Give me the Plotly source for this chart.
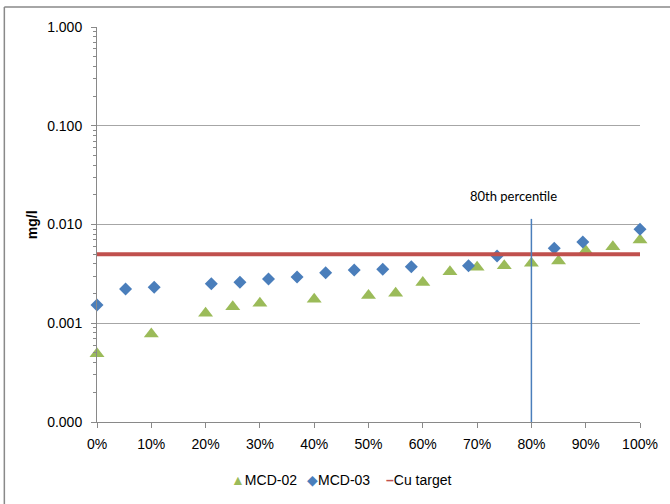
import plotly.graph_objects as go

# ---- data ----
mcd02_pct = [0.00, 0.10, 0.20, 0.25, 0.30, 0.40, 0.50, 0.55, 0.60, 0.65, 0.70, 0.75, 0.80, 0.85, 0.90, 0.95, 1.00]
mcd02_val = [0.00049, 0.00078, 0.00126, 0.00147, 0.00159, 0.00175, 0.00191, 0.00201, 0.00258, 0.00333,
             0.00369, 0.00383, 0.00405, 0.00427, 0.00543, 0.00596, 0.00697]

mcd03_pct = [0.0000, 0.0526, 0.1053, 0.2105, 0.2632, 0.3158, 0.3684, 0.4211, 0.4737, 0.5263,
             0.5789, 0.6842, 0.7368, 0.8421, 0.8947, 1.0000]
mcd03_val = [0.00153, 0.00222, 0.00231, 0.00251, 0.00260, 0.00281, 0.00294, 0.00325, 0.00346, 0.00352,
             0.00374, 0.00383, 0.00480, 0.00574, 0.00665, 0.00894]

cu_target_pct = [0.0, 1.0]
cu_target_val = [0.005, 0.005]

p80_pct = [0.8, 0.8]
p80_val = [0.0001, 0.0114]

y_tickvals = [0.0001, 0.001, 0.01, 0.1, 1.0]
y_ticktext = ["0.000", "0.001", "0.010", "0.100", "1.000"]
y_minor = [m * d for d in [0.0001, 0.001, 0.01, 0.1] for m in range(2, 10)]

series_names = ["MCD-02", "MCD-03", "Cu target"]

FONT = "Arial, Liberation Sans, sans-serif"
GRID = "#a6a6a6"
AXIS = "#898989"
GREEN, BLUE, RED = "#9bbb59", "#4a7ebb", "#c0504d"

fig = go.Figure()
fig.add_trace(go.Scatter(x=mcd02_pct, y=mcd02_val, mode="markers", name=series_names[0],
                         marker=dict(symbol="triangle-up", size=13, color=GREEN),
                         cliponaxis=False, showlegend=False))
fig.add_trace(go.Scatter(x=mcd03_pct, y=mcd03_val, mode="markers", name=series_names[1],
                         marker=dict(symbol="diamond", size=10, color=BLUE),
                         cliponaxis=False, showlegend=False))
fig.add_trace(go.Scatter(x=cu_target_pct, y=cu_target_val, mode="lines", name=series_names[2],
                         line=dict(color=RED, width=4), cliponaxis=False, showlegend=False))
fig.add_trace(go.Scatter(x=p80_pct, y=p80_val, mode="lines", showlegend=False,
                         line=dict(color=BLUE, width=1.5), hoverinfo="skip"))

L, R, T, B = 97, 28, 27, 82
W, H = 670, 504
pw, ph = W - L - R, H - T - B

def px(xp):
    return (xp - L) / pw

def py(yp):
    return (H - B - yp) / ph

legend_y = 480
legend_items = [
    (229, f'<span style="color:{GREEN}">▲</span>{series_names[0]}'),
    (306, f'<span style="color:{BLUE}">◆</span>{series_names[1]}'),
    (385, f'<span style="color:{RED}"><b>–</b></span>{series_names[2]}'),
]

annotations = [
    dict(text="<b>mg/l</b>", xref="paper", yref="paper",
         x=px(32), y=py(225), textangle=-90,
         showarrow=False, font=dict(family=FONT, size=14),
         xanchor="center", yanchor="middle"),
    dict(text="80th percentile", xref="paper", yref="paper",
         x=px(515), y=py(196),
         showarrow=False, font=dict(family="Lato, Open Sans, sans-serif", size=13),
         xanchor="center", yanchor="middle"),
]
for xl, txt in legend_items:
    annotations.append(dict(text=txt, xref="paper", yref="paper", x=px(xl), y=py(legend_y),
                            showarrow=False, xanchor="left", yanchor="middle",
                            font=dict(family=FONT, size=14, color="#000000")))

fig.update_layout(
    width=W, height=H,
    margin=dict(l=L, r=R, t=T, b=B, pad=0),
    paper_bgcolor="white", plot_bgcolor="white",
    font=dict(family=FONT, size=14, color="#000000"),
    showlegend=False,
    xaxis=dict(range=[0, 1], tickmode="array",
               tickvals=[i / 10 for i in range(11)], tickformat=".0%",
               showgrid=False, zeroline=False,
               showline=True, linecolor=AXIS, linewidth=1,
               ticks="outside", ticklen=5, tickcolor=AXIS,
               tickfont=dict(family=FONT, size=14), ticklabelstandoff=4),
    yaxis=dict(type="log", range=[-4, 0], tickmode="array",
               tickvals=y_tickvals, ticktext=y_ticktext,
               showgrid=True, gridcolor=GRID, gridwidth=1, zeroline=False,
               showline=True, linecolor=AXIS, linewidth=1,
               ticks="outside", ticklen=5, tickcolor=AXIS,
               tickfont=dict(family=FONT, size=14), ticklabelstandoff=6,
               minor=dict(tickmode="array", tickvals=y_minor, ticks="outside",
                          ticklen=3, tickcolor=AXIS, showgrid=False)),
    annotations=annotations,
    shapes=[
        dict(type="line", xref="paper", yref="paper",
             x0=px(4), x1=px(W + 5), y0=py(7), y1=py(7),
             line=dict(color=AXIS, width=1.5)),
        dict(type="line", xref="paper", yref="paper",
             x0=px(4), x1=px(4), y0=py(7), y1=py(H + 5),
             line=dict(color=AXIS, width=1.5)),
    ],
)

fig.write_html("out.html")
